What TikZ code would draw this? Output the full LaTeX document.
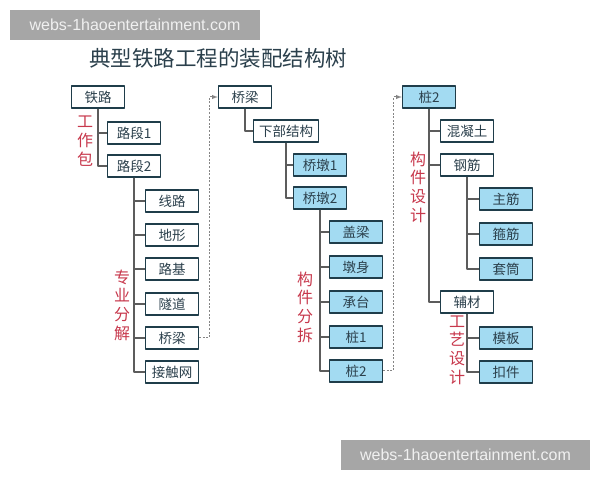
\documentclass[tikz,border=0pt]{standalone}
\usepackage{fontspec}
\newfontfamily\cjk{Noto Sans CJK SC}
\newfontfamily\wmfont{Liberation Sans}
\definecolor{boxcol}{rgb}{0.12,0.24,0.29}
\definecolor{fillcol}{rgb}{0.64,0.86,0.95}
\definecolor{textcol}{rgb}{0.17,0.25,0.30}
\definecolor{labelcol}{rgb}{0.78,0.22,0.30}
\definecolor{treecol}{rgb}{0.36,0.36,0.36}
\definecolor{dashcol}{rgb}{0.52,0.52,0.52}
\definecolor{wmcol}{rgb}{0.65,0.65,0.65}
\tikzset{
  part/.style={draw=boxcol, line width=1.4bp, fill=white, text=textcol,
    minimum width=53bp, minimum height=22bp, inner sep=0pt,
    font=\cjk\fontsize{13.5bp}{15bp}\selectfont},
  bluepart/.style={part, fill=fillcol},
  tree/.style={draw=treecol, line width=1.1bp},
  jump/.style={draw=dashcol, line width=1bp, dash pattern=on 2bp off 1.6bp, ->},
  vlabel/.style={text=labelcol, align=center, inner sep=0pt,
    font=\cjk\fontsize{16bp}{18.7bp}\selectfont},
  wmark/.style={fill=wmcol, text=white!94!black, inner sep=0pt,
    minimum width=250bp, minimum height=30bp,
    font=\wmfont\fontsize{16bp}{18bp}\selectfont},
}
\begin{document}
\begin{tikzpicture}[>=latex,line join=bevel,]
  \pgfsetlinewidth{1bp}
  \useasboundingbox (0bp,0bp) rectangle (600bp,480bp);
  % Watermarks and title
  \node[wmark] (wmtop) at (135bp,455bp) {webs-1haoentertainment.com};
  \node[wmark, minimum width=249bp] (wmbot) at (465.5bp,25bp) {webs-1haoentertainment.com};
  \node[text=textcol, font=\cjk\fontsize{21.5bp}{24bp}\selectfont] (title) at (218bp,422bp) {典型铁路工程的装配结构树};
  % Node: tielu
  \node[part] (tielu) at (98bp,383bp) {铁路};
  % Node: luduan1
  \node[part] (luduan1) at (134bp,347bp) {路段1};
  % Node: luduan2
  \node[part] (luduan2) at (134bp,314bp) {路段2};
  % Node: xianlu
  \node[part] (xianlu) at (172bp,279bp) {线路};
  % Node: dixing
  \node[part] (dixing) at (172bp,245bp) {地形};
  % Node: luji
  \node[part] (luji) at (172bp,211bp) {路基};
  % Node: suidao
  \node[part] (suidao) at (172bp,176bp) {隧道};
  % Node: qiaoliang1
  \node[part] (qiaoliang1) at (172bp,142bp) {桥梁};
  % Node: jiechuwang
  \node[part] (jiechuwang) at (172bp,108bp) {接触网};
  % Node: qiaoliang2
  \node[part] (qiaoliang2) at (245bp,383bp) {桥梁};
  % Node: xiabu
  \node[part, minimum width=65bp] (xiabu) at (286bp,349bp) {下部结构};
  % Node: qiaodun1
  \node[bluepart] (qiaodun1) at (320bp,315bp) {桥墩1};
  % Node: qiaodun2
  \node[bluepart] (qiaodun2) at (320bp,282bp) {桥墩2};
  % Node: gailiang
  \node[bluepart] (gailiang) at (356bp,248bp) {盖梁};
  % Node: dunshen
  \node[bluepart] (dunshen) at (356bp,213bp) {墩身};
  % Node: chengtai
  \node[bluepart] (chengtai) at (356bp,178bp) {承台};
  % Node: zhuang1
  \node[bluepart] (zhuang1) at (356bp,143bp) {桩1};
  % Node: zhuang2
  \node[bluepart] (zhuang2) at (356bp,109bp) {桩2};
  % Node: zhuangtop
  \node[bluepart] (zhuangtop) at (429bp,383bp) {桩2};
  % Node: hunningtu
  \node[part] (hunningtu) at (467bp,349bp) {混凝土};
  % Node: gangjin
  \node[part] (gangjin) at (467bp,315bp) {钢筋};
  % Node: zhujin
  \node[bluepart] (zhujin) at (506bp,281bp) {主筋};
  % Node: gujin
  \node[bluepart] (gujin) at (506bp,246bp) {箍筋};
  % Node: taotong
  \node[bluepart] (taotong) at (506bp,211bp) {套筒};
  % Node: fucai
  \node[part] (fucai) at (467bp,178bp) {辅材};
  % Node: muban
  \node[bluepart] (muban) at (506bp,142bp) {模板};
  % Node: koujian
  \node[bluepart] (koujian) at (506bp,108bp) {扣件};
  % Vertical labels
  \node[vlabel] (gongzuobao) at (85bp,339bp) {工\\作\\包};
  \node[vlabel] (zhuanye) at (122bp,175bp) {专\\业\\分\\解};
  \node[vlabel] (goujianfc) at (305bp,173bp) {构\\件\\分\\拆};
  \node[vlabel] (goujiansj) at (418bp,293bp) {构\\件\\设\\计};
  \node[vlabel] (gongyi) at (457bp,130bp) {工\\艺\\设\\计};
  % Edge: tielu -> luduan1, luduan2
  \foreach \c in {luduan1,luduan2} \draw[tree] (tielu.south) |- (\c.west);
  % Edge: luduan2 -> disciplines
  \foreach \c in {xianlu,dixing,luji,suidao,qiaoliang1,jiechuwang} \draw[tree] (luduan2.south) |- (\c.west);
  % Edge: qiaoliang2 -> xiabu
  \draw[tree] (qiaoliang2.south) |- (xiabu.west);
  % Edge: xiabu -> qiaodun1, qiaodun2
  \foreach \c in {qiaodun1,qiaodun2} \draw[tree] (xiabu.south) |- (\c.west);
  % Edge: qiaodun2 -> members
  \foreach \c in {gailiang,dunshen,chengtai,zhuang1,zhuang2} \draw[tree] (qiaodun2.south) |- (\c.west);
  % Edge: zhuangtop -> hunningtu, gangjin, fucai
  \foreach \c in {hunningtu,gangjin,fucai} \draw[tree] (zhuangtop.south) |- (\c.west);
  % Edge: gangjin -> bars
  \foreach \c in {zhujin,gujin,taotong} \draw[tree] (gangjin.south) |- (\c.west);
  % Edge: fucai -> muban, koujian
  \foreach \c in {muban,koujian} \draw[tree] (fucai.south) |- (\c.west);
  % Edge: qiaoliang1 -> qiaoliang2
  \draw[jump] (qiaoliang1.east) -- ++(10bp,0bp) |- (qiaoliang2.west);
  % Edge: zhuang2 -> zhuangtop
  \draw[jump] (zhuang2.east) -- ++(10bp,0bp) |- (zhuangtop.west);
\end{tikzpicture}
\end{document}
